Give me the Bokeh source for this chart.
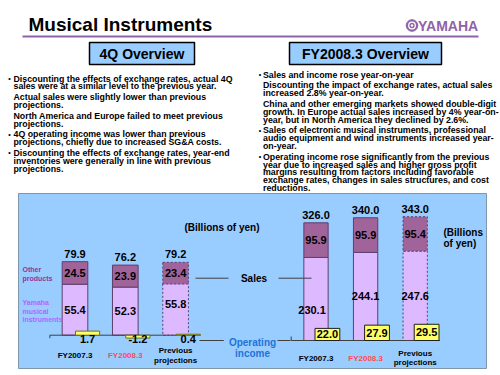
from bokeh.plotting import figure
from bokeh.models import Range1d
from bokeh.core.properties import value
from bokeh.embed import file_html
from bokeh.resources import INLINE

# ---------------- data ----------------
categories = ["FY2007.3", "FY2008.3", "Previous\nprojections"]
q4_yamaha_mi = [55.4, 52.3, 55.8]
q4_other = [24.5, 23.9, 23.4]
q4_sales_total = [79.9, 76.2, 79.2]
q4_op_income = [1.7, -1.2, 0.4]
fy_yamaha_mi = [230.1, 244.1, 247.6]
fy_other = [95.9, 95.9, 95.4]
fy_sales_total = [326.0, 340.0, 343.0]
fy_op_income = [22.0, 27.9, 29.5]

title_text = "Musical Instruments"
q4_heading = "4Q Overview"
fy_heading = "FY2008.3 Overview"
q4_paragraphs = [
    (True, ["Discounting the effects of exchange rates, actual 4Q",
            "sales were at a similar level to the previous year."]),
    (False, ["Actual sales were slightly lower than previous", "projections."]),
    (False, ["North America and Europe failed to meet previous", "projections."]),
    (True, ["4Q operating income was lower than previous",
            "projections, chiefly due to increased SG&A costs."]),
    (True, ["Discounting the effects of exchange rates, year-end",
            "inventories were generally in line with previous", "projections."]),
]
fy_paragraphs = [
    (True, ["Sales and income rose year-on-year"]),
    (False, ["Discounting the impact of exchange rates, actual sales",
             "increased 2.8% year-on-year."]),
    (False, ["China and other emerging markets showed double-digit",
             "growth. In Europe actual sales increased by 4% year-on-",
             "year, but in North America they declined by 2.6%."]),
    (True, ["Sales of electronic musical instruments, professional",
            "audio equipment and wind instruments increased year-", "on-year."]),
    (True, ["Operating income rose significantly from the previous",
            "year due to increased sales and higher gross profit",
            "margins resulting from factors including favorable",
            "exchange rates, changes in sales structures, and cost",
            "reductions."]),
]
unit_label = "(Billions of yen)"
unit_label_2 = ["(Billions", "of yen)"]
series_other_label = ["Other", "products"]
series_mi_label = ["Yamaha", "musical", "instruments"]
sales_label = "Sales"
op_label = ["Operating", "income"]

# ---------------- style / layout ----------------
W, H = 500, 375
X0, Y0 = 0, 0
FONT = value("Liberation Sans")
PANEL = "#99CCFF"
LAV = "#DDB9FF"
MAUVE = "#A0649A"
EDGE = "#5E3F6E"
YEL = "#FFFF66"
PURPLE = "#8E63A8"
cat_colors = ["black", "#FF4D4D", "black"]

p = figure(width=W, height=H, x_range=Range1d(X0, X0 + W), y_range=Range1d(Y0 + H, Y0),
           output_backend="svg", toolbar_location=None, min_border=0,
           x_axis_location=None, y_axis_location=None, outline_line_color=None,
           background_fill_color="white", border_fill_color="white")
p.grid.visible = False


def yrange(base_px, ppu):
    start = -((Y0 + H) - base_px) / ppu
    return Range1d(start, start + H / ppu)


def xrange(c0_px, step):
    start = -(c0_px - X0) / step
    return Range1d(start, start + W / step)


Q4_BASE, Q4_PPU, Q4OP_PPU = 334.7, 0.92, 2.4
FY_BASE, FY_PPU, FYOP_PPU = 340.0, 0.361, 0.55
p.extra_y_ranges = {"q4": yrange(Q4_BASE, Q4_PPU), "q4op": yrange(Q4_BASE, Q4OP_PPU),
                    "fy": yrange(FY_BASE, FY_PPU), "fyop": yrange(FY_BASE, FYOP_PPU)}
p.extra_x_ranges = {"q4x": xrange(74.5, 50.3), "fyx": xrange(315.5, 49.6)}


def txt(x, y, s, size, color="black", bold=True, align="left", font=FONT, **kw):
    p.text(x=x if isinstance(x, list) else [x], y=y if isinstance(y, list) else [y],
           text=s if isinstance(s, list) else [s], text_font=font,
           text_font_size=f"{size}px", text_font_style="bold" if bold else "normal",
           text_color=color, text_align=align, text_baseline="middle", **kw)


# ---------------- header ----------------
txt(28, 24, title_text, 19)
p.segment(x0=[22], y0=[36], x1=[478], y1=[36], line_color=PURPLE, line_width=2)
p.circle(x=[411.5], y=[25], radius=5.8, fill_color=PURPLE, line_color=PURPLE)
p.circle(x=[411.5], y=[25], radius=3.3, fill_color=None, line_color="white", line_width=1.3)
p.circle(x=[411.5], y=[25], radius=1.2, fill_color="white", line_color=None)
txt(417.5, 25.5, "YAMAHA", 14, color=PURPLE)

for (l, r, s) in [(89, 194, q4_heading), (289, 441, fy_heading)]:
    p.quad(left=[l], right=[r], top=[42], bottom=[64], fill_color=PANEL,
           line_color="black", line_width=1.5)
    txt((l + r) / 2, 53.5, s, 14, align="center")


def block(paragraphs, xb, xt, y0, s, g):
    y = y0
    for k, (bullet, lines) in enumerate(paragraphs):
        if k > 0:
            y += g
        if bullet:
            txt(xb, y, "\u2022", 7, align="center")
        for j, line in enumerate(lines):
            txt(xt, y, line, 8.8)
            if j < len(lines) - 1:
                y += s


block(q4_paragraphs, 9, 13, 78, 7.8, 10.8)
block(fy_paragraphs, 259.5, 262.5, 74, 7.8, 10.8)

# ---------------- chart panel ----------------
p.quad(left=[18], right=[486], top=[193], bottom=[368], fill_color=PANEL,
       line_color="#8096AA", line_width=1)

idx = list(range(len(categories)))


def stacked(xr, yr, width, mi, other, dashed_from):
    tops = [a + b for a, b in zip(mi, other)]
    for sel, dash in [(idx[:dashed_from], "solid"), (idx[dashed_from:], "2 2")]:
        p.vbar(x=sel, width=width, bottom=0, top=[mi[i] for i in sel], fill_color=LAV,
               line_color=EDGE, line_dash=dash, x_range_name=xr, y_range_name=yr)
        p.vbar(x=sel, width=width, bottom=[mi[i] for i in sel], top=[tops[i] for i in sel],
               fill_color=MAUVE, line_color=EDGE, line_dash=dash,
               x_range_name=xr, y_range_name=yr)
    return tops


q4_tops = stacked("q4x", "q4", 0.51, q4_yamaha_mi, q4_other, 2)
fy_tops = stacked("fyx", "fy", 0.49, fy_yamaha_mi, fy_other, 2)

# axis baselines
p.segment(x0=[-0.5], x1=[2.5], y0=[0], y1=[0], line_color="#404040", line_width=1,
          x_range_name="q4x", y_range_name="q4")
p.segment(x0=[-0.5], x1=[-0.5], y0=[0], y1=[-3 / Q4_PPU], line_color="#404040",
          x_range_name="q4x", y_range_name="q4")
p.segment(x0=[-0.5], x1=[2.5], y0=[0], y1=[0], line_color="#404040", line_width=1,
          x_range_name="fyx", y_range_name="fy")
p.segment(x0=[-0.5], x1=[-0.5], y0=[0], y1=[4 / FY_PPU], line_color="#404040",
          x_range_name="fyx", y_range_name="fy")

# operating income bars
q4_op_x = [i + 0.25 for i in idx]
p.vbar(x=q4_op_x, width=0.48, bottom=0, top=q4_op_income, fill_color=YEL,
       line_color="#6E6E1E", x_range_name="q4x", y_range_name="q4op")
fy_op_x = [i + 0.23 for i in idx]
p.vbar(x=fy_op_x, width=0.5, bottom=0, top=fy_op_income, fill_color=YEL,
       line_color="#202020", x_range_name="fyx", y_range_name="fyop")

# connector lines
p.segment(x0=[195, 278, 199, 277], y0=[277.7, 277.7, 340, 340],
          x1=[228, 311, 223.3, 290], y1=[277.7, 277.7, 340, 340],
          line_color="#404040", line_width=1)

# value labels
NUM = 11
txt(idx, [t + 8 / Q4_PPU for t in q4_tops], [f"{v:.1f}" for v in q4_sales_total], NUM,
    align="center", x_range_name="q4x", y_range_name="q4")
txt(idx, [m + o / 2 for m, o in zip(q4_yamaha_mi, q4_other)], [f"{v:.1f}" for v in q4_other],
    NUM, align="center", x_range_name="q4x", y_range_name="q4")
q4_mi_nudge = [0, 0, 6]
txt(idx, [m / 2 + n / Q4_PPU for m, n in zip(q4_yamaha_mi, q4_mi_nudge)],
    [f"{v:.1f}" for v in q4_yamaha_mi], NUM, align="center", x_range_name="q4x", y_range_name="q4")
txt(q4_op_x, [-3.5 / Q4OP_PPU] * 3, [f"{v:.1f}" for v in q4_op_income], NUM, align="center",
    x_range_name="q4x", y_range_name="q4op")

txt(idx, [t + 8 / FY_PPU for t in fy_tops], [f"{v:.1f}" for v in fy_sales_total], NUM,
    align="center", x_range_name="fyx", y_range_name="fy")
txt(idx, [m + o / 2 for m, o in zip(fy_yamaha_mi, fy_other)], [f"{v:.1f}" for v in fy_other],
    NUM, align="center", x_range_name="fyx", y_range_name="fy")
fy_mi_nudge = [(-0.08, -11), (0, 0), (0, 0)]
txt([i + n[0] for i, n in zip(idx, fy_mi_nudge)],
    [m / 2 + n[1] / FY_PPU for m, n in zip(fy_yamaha_mi, fy_mi_nudge)],
    [f"{v:.1f}" for v in fy_yamaha_mi], NUM, align="center", x_range_name="fyx", y_range_name="fy")
txt(fy_op_x, [v / 2 for v in fy_op_income], [f"{v:.1f}" for v in fy_op_income], NUM,
    align="center", x_range_name="fyx", y_range_name="fyop")

# category labels
for xr, yc in [("q4x", 355), ("fyx", 357.5)]:
    for i, c in enumerate(categories):
        lines = c.split("\n")
        n = len(lines)
        for j, line in enumerate(lines):
            txt(i, yc + (j - (n - 1) / 2) * 9.5, line, 8, color=cat_colors[i], align="center",
                x_range_name=xr)

# annotations
txt(221.5, 227, unit_label, 10, align="center")
txt(443, 231.7, unit_label_2[0], 10)
txt(443, 242.7, unit_label_2[1], 10)
txt(253.5, 278, sales_label, 10, align="center")
txt(252, 341.7, op_label[0], 10, color="#1F73D6", align="center")
txt(252, 352.7, op_label[1], 10, color="#1F73D6", align="center")
for j, s in enumerate(series_other_label):
    txt(22, 269.3 + j * 8.4, s, 7, color="#993399")
for j, s in enumerate(series_mi_label):
    txt(22, 302.3 + j * 8.4, s, 7, color="#B266FF")

open("out.html", "w").write(file_html(p, INLINE))
